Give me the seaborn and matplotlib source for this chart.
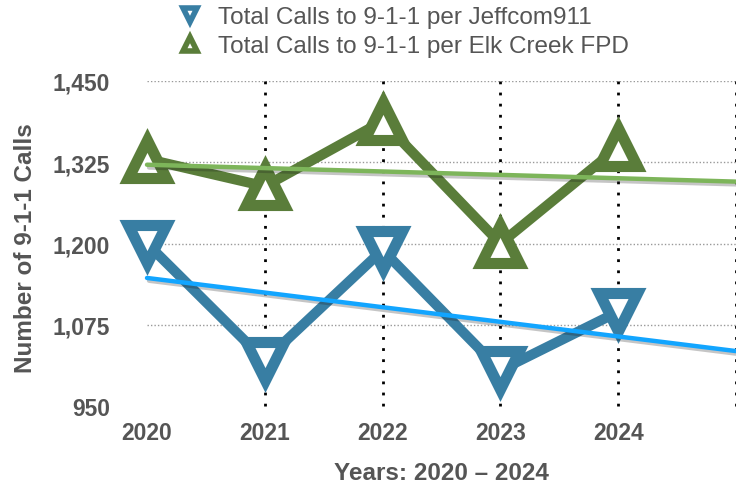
import numpy as np
import pandas as pd
import matplotlib
matplotlib.use("Agg")
import matplotlib.pyplot as plt
import matplotlib.patheffects as pe
from matplotlib.lines import Line2D
from matplotlib.ticker import FuncFormatter
import seaborn as sns

years = [2020, 2021, 2022, 2023, 2024]
jeffcom = [1200, 1020, 1190, 1005, 1095]
elk_creek = [1330, 1288, 1388, 1200, 1348]
series_names = ["Total Calls to 9-1-1 per Jeffcom911", "Total Calls to 9-1-1 per Elk Creek FPD"]
y_ticks = [950, 1075, 1200, 1325, 1450]
x_labels = ["2020", "2021", "2022", "2023", "2024"]

sns.set_theme(style="white")
plt.rcParams["font.family"] = ["Liberation Sans", "DejaVu Sans"]

c_blue = "#387EA3"
c_green = "#5A7D3A"
c_blue_trend = "#12A5FF"
c_green_trend = "#7DB55A"
text_col = "#555555"

df = pd.DataFrame({"year": years + years,
                   "calls": jeffcom + elk_creek,
                   "series": [series_names[0]] * 5 + [series_names[1]] * 5})

fig = plt.figure(figsize=(7.36, 4.89), dpi=100)
ax = fig.add_axes([147 / 736, 1 - 407 / 489, 1 - 147 / 736, (407 - 82) / 489])

ax.set_xlim(2020, 2025)
ax.set_ylim(950, 1450)

for name, col, mk in [(series_names[0], c_blue, "v"), (series_names[1], c_green, "^")]:
    sub = df[df.series == name]
    sns.lineplot(data=sub, x="year", y="calls", ax=ax, color=col, linewidth=7.3,
                 marker=mk, markersize=27, markeredgewidth=8, markeredgecolor=col,
                 markerfacecolor="white", legend=False, clip_on=False, zorder=3)

ax.set_xlim(2020, 2025)
for vals, col in [(jeffcom, c_blue_trend), (elk_creek, c_green_trend)]:
    n_before = len(ax.lines)
    sns.regplot(x=np.array(years, float), y=np.array(vals, float), ax=ax, scatter=False,
                ci=None, truncate=False, line_kws=dict(color=col, linewidth=3.2, zorder=5))
    for ln in ax.lines[n_before:]:
        ln.set_path_effects([pe.SimpleLineShadow(offset=(1.5, -2), shadow_color="k", alpha=0.25),
                             pe.Normal()])
        ln.set_clip_on(False)

ax.set_xlim(2020, 2025)
ax.set_ylim(950, 1450)

# grid
for y in y_ticks[1:]:
    ax.axhline(y, color="#999999", linestyle=(0, (1, 1.5)), linewidth=1, zorder=1)
for x in [2021, 2022, 2023, 2024, 2025]:
    ax.axvline(x, color="black", linestyle=(0, (1, 3)), linewidth=2, zorder=1, clip_on=False)

for s in ax.spines.values():
    s.set_visible(False)

ax.set_yticks(y_ticks)
ax.yaxis.set_major_formatter(FuncFormatter(lambda v, p: f"{int(v):,}"))
ax.set_xticks(years)
ax.set_xticklabels(x_labels)
ax.tick_params(axis="both", length=0, labelsize=16.5, labelcolor=text_col)
ax.tick_params(axis="y", pad=26.5)
ax.tick_params(axis="x", pad=11)
for lab in ax.get_xticklabels() + ax.get_yticklabels():
    lab.set_fontweight("bold")

ax.set_xlabel("Years: 2020 \u2013 2024", fontsize=17.5, fontweight="bold", color=text_col)
ax.set_ylabel("Number of 9-1-1 Calls", fontsize=17.5, fontweight="bold", color=text_col)
ax.xaxis.set_label_coords(0.5, -0.168)
ax.yaxis.set_label_coords(-0.186, 0.49)

handles = [Line2D([], [], linestyle="none", marker="v", markersize=10, markeredgewidth=4,
                  markerfacecolor="white", markeredgecolor=c_blue),
           Line2D([], [], linestyle="none", marker="^", markersize=10, markeredgewidth=4,
                  markerfacecolor="white", markeredgecolor=c_green)]
leg = fig.legend(handles, series_names, loc="upper left", bbox_to_anchor=(178 / 736, 1 - 7 / 489),
                 frameon=False, fontsize=17.5, labelcolor=text_col, handletextpad=0.65,
                 labelspacing=0.3, handlelength=1.0, borderpad=0, borderaxespad=0)

fig.savefig("out.png", dpi=100)
